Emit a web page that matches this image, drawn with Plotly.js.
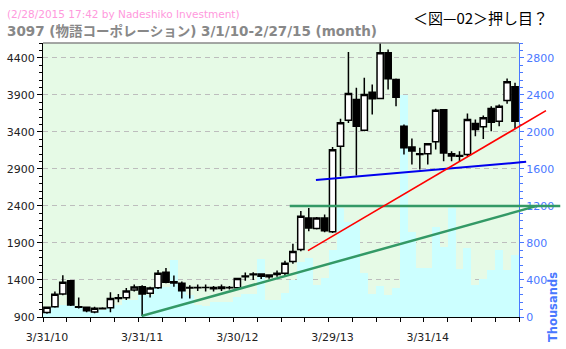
<!DOCTYPE html>
<html>
<head>
<meta charset="utf-8">
<script src="https://cdn.plot.ly/plotly-3.0.1.min.js"></script>
<style>
html,body{margin:0;padding:0;background:#fff;}
#chart{width:566px;height:349px;}
</style>
</head>
<body>
<div id="chart"></div>
<script>
// Monthly candles, Mar 2010 .. Feb 2015 (index 0..59)
const openP  = [960,1040,1210,1390,1040,1030,968,1010,1025,1150,1160,1265,1310,1220,1295,1505,1375,1355,1300,1295,
                1300,1300,1285,1295,1295,1455,1470,1482,1468,1490,1490,1650,1810,2238,2095,2238,2050,3206,3558,3837,
                3422,3936,3850,4468,4107,3476,3197,3095,3103,3265,3700,3105,3080,3095,3513,3468,3715,3545,3823,4008];
const highP  = [1040,1245,1465,1395,1165,1035,1040,1030,1235,1210,1290,1340,1330,1310,1535,1560,1460,1380,1330,1340,
                1340,1318,1340,1318,1430,1500,1505,1490,1477,1527,1660,1890,2330,2373,2250,2283,3197,3576,4480,3995,
                4130,4040,4600,4513,4120,3499,3310,3184,3251,3711,3702,3139,3139,3648,3567,3620,3747,3770,4121,4062];
const lowP   = [945,1025,1195,1050,1015,965,950,1005,965,1100,1130,1245,915,1165,1278,1355,1310,1150,1150,1250,
                1245,1245,1250,1270,1290,1390,1400,1414,1418,1445,1460,1620,1787,2057,2080,2044,2035,2800,3520,2810,
                3409,3634,3840,3972,3747,3094,2958,2891,2958,3161,3003,3003,3003,3070,3341,3305,3409,3476,3778,3440];
const closeP = [1030,1207,1370,1062,1030,985,1017,1017,1150,1160,1250,1305,1210,1290,1490,1370,1360,1255,1290,1300,
                1298,1280,1305,1298,1420,1445,1480,1450,1445,1475,1627,1786,2260,2102,2238,2066,3160,3522,3918,3476,
                3904,3846,4468,4116,3868,3184,3140,3105,3238,3693,3116,3075,3070,3567,3432,3590,3530,3747,4076,3544];
// Volume (thousands)
const volume = [95,110,135,135,110,80,75,80,110,130,184,184,238,238,328,328,617,292,238,130,
                115,165,165,165,220,250,250,625,184,184,256,400,598,635,346,419,725,1176,1031,1031,
                473,249,335,238,310,2400,923,533,533,977,761,1176,516,743,346,408,508,725,508,671];
const tickPos = [0,12,24,36,48];
const tickLabels = ['3/31/10','3/31/11','3/30/12','3/29/13','3/31/14'];

// Trend lines: [monthPosition, price] endpoints
const greenDiag  = [[11.94, 914], [61.77, 2400]];
const redLine    = [[32.9, 1796], [62.9, 3687]];
const blueLine   = [[33.9, 2751], [60.4, 2995]];
const greenHoriz = [[30.6, 2400], [64.7, 2400]];

const XR = [-0.5, 59.5];
const YP = [900, 4600];
const YV = [0, (YP[1]-YP[0])*0.8];

const monthX = closeP.map((_, i) => i);

const W = 566, H = 349, ML = 43, MR = 47, MT = 43, MB = 32;
const PW = W - ML - MR, PH = H - MT - MB;
function xp(m){ return (m - XR[0]) / (XR[1] - XR[0]); }
function pxX(px){ return (px - ML) / PW; }
function pxY(py){ return (H - MB - py) / PH; }

function seg(pts, color, width){
  return {type:'line', xref:'paper', yref:'y2',
    x0: xp(pts[0][0]), y0: pts[0][1], x1: xp(pts[1][0]), y1: pts[1][1],
    line:{color:color, width:width}, layer:'above'};
}

const volTrace = {
  type:'bar', x: monthX, y: volume, xaxis:'x', yaxis:'y',
  marker:{color:'#ccffff', line:{width:0}}, hoverinfo:'skip', showlegend:false
};
const candle = {
  type:'candlestick', x: monthX, open: openP, high: highP, low: lowP, close: closeP,
  xaxis:'x', yaxis:'y2',
  increasing:{line:{color:'#000000', width:1.5}, fillcolor:'#ffffff'},
  decreasing:{line:{color:'#000000', width:1.5}, fillcolor:'#000000'},
  whiskerwidth:0, hoverinfo:'skip', showlegend:false
};

const blue = '#4a78ff';
const layout = {
  width: W, height: H,
  margin:{l:ML, r:MR, t:MT, b:MB, pad:0},
  paper_bgcolor:'#ffffff', plot_bgcolor:'#e6fae6',
  showlegend:false, bargap:0, boxgap:0.12, boxgroupgap:0.1,
  font:{family:'DejaVu Sans, sans-serif', size:11, color:'#222222'},
  xaxis:{
    range: XR, rangeslider:{visible:false},
    tickmode:'array', tickvals: tickPos, ticktext: tickLabels,
    ticks:'outside', ticklen:10, tickcolor:'rgba(0,0,0,0)',
    tickfont:{size:11, color:'#222222'},
    showline:true, linecolor:'#000000', linewidth:1,
    showgrid:false, zeroline:false,
    minor:{tick0:-0.5, dtick:3, ticks:'outside', ticklen:4, tickcolor:'#000000', tickwidth:1, showgrid:false}
  },
  yaxis:{
    range: YV, side:'right', tick0:0, dtick:400,
    ticks:'outside', ticklen:4, tickcolor: blue,
    tickfont:{size:11, color: blue},
    showline:true, linecolor: blue, linewidth:1,
    showgrid:true, gridcolor:'#bdbdbd', griddash:'5px,4px', gridwidth:1,
    zeroline:false,
    minor:{dtick:80, ticks:'outside', ticklen:3, tickcolor: blue, showgrid:false}
  },
  yaxis2:{
    range: YP, overlaying:'y', side:'left', tick0:900, dtick:500,
    ticks:'outside', ticklen:5, tickcolor:'#000000',
    tickfont:{size:11, color:'#222222'},
    showline:true, linecolor:'#000000', linewidth:1,
    showgrid:false, zeroline:false,
    minor:{dtick:100, ticks:'outside', ticklen:3, tickcolor:'#000000', showgrid:false}
  },
  shapes:[
    {type:'line', xref:'paper', yref:'paper', x0:0, x1:1, y0:1, y1:1, line:{color:'#888888', width:1.5}},
    seg(greenHoriz, '#339966', 2.5),
    seg(greenDiag, '#339966', 2.5),
    seg(blueLine, '#0000ee', 2),
    seg(redLine, '#ff0000', 1.6)
  ],
  annotations:[
    {text:'(2/28/2015 17:42 by Nadeshiko Investment)', xref:'paper', yref:'paper',
     x: pxX(5), y: pxY(14), xanchor:'left', yanchor:'middle', showarrow:false,
     font:{family:'DejaVu Sans, sans-serif', size:10.5, color:'#ff99dd'}},
    {text:'<b>3097 (物語コーポレーション) 3/1/10-2/27/15 (month)</b>', xref:'paper', yref:'paper',
     x: pxX(5), y: pxY(31), xanchor:'left', yanchor:'middle', showarrow:false,
     font:{family:'DejaVu Sans, Noto Sans CJK JP, sans-serif', size:13.5, color:'#888888'}},
    {text:'＜図—02＞押し目？', xref:'paper', yref:'paper',
     x: pxX(550), y: pxY(17), xanchor:'right', yanchor:'middle', showarrow:false,
     font:{family:'Noto Sans CJK JP, sans-serif', size:15, color:'#000000'}},
    {text:'<b>Thousands</b>', xref:'paper', yref:'paper',
     x: pxX(553), y: pxY(307), xanchor:'center', yanchor:'middle', showarrow:false, textangle:-90,
     font:{family:'DejaVu Sans, sans-serif', size:11.5, color: blue}}
  ]
};

Plotly.newPlot('chart', [volTrace, candle], layout, {staticPlot:true, displayModeBar:false});
</script>
</body>
</html>
